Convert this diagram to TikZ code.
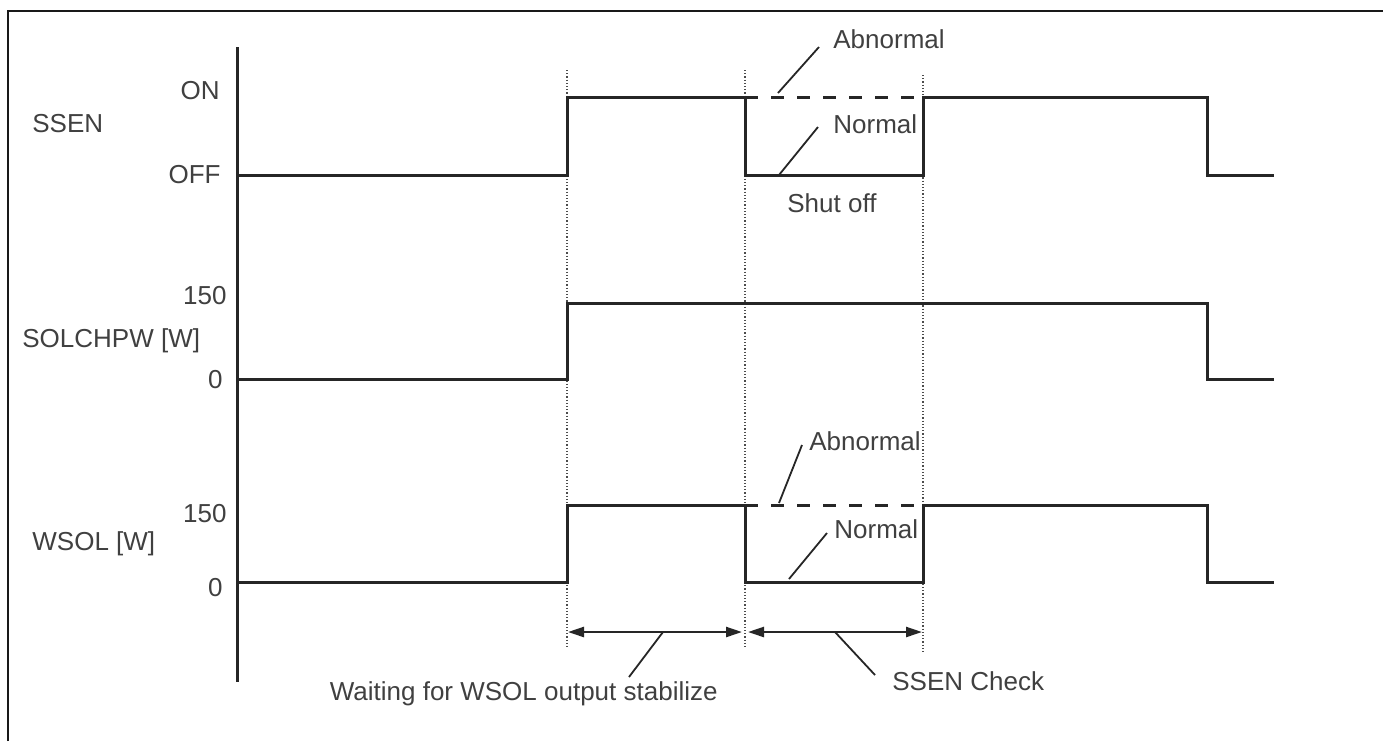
\documentclass[tikz,border=0pt]{standalone}
\usepackage{fontspec}
\setmainfont{Liberation Sans}
\usetikzlibrary{arrows.meta,positioning}

\begin{document}
\begin{tikzpicture}[x=0.5pt,y=-0.5pt,
  signal/.style={line width=1.5pt,black!85,line join=miter},
  abnormal/.style={signal,dash pattern=on 6.5pt off 6.5pt},
  guide/.style={densely dotted,line width=0.6pt,black!70},
  leader/.style={line width=0.9pt,black!85},
  span/.style={line width=1.2pt,black!85,
    {Triangle[length=8pt,width=5pt]}-{Triangle[length=8pt,width=5pt]}},
  lbl/.style={inner sep=0pt,text=black!75,font=\fontsize{13}{15}\selectfont}]
\useasboundingbox (0,0) rectangle (1383,741);
% frame
\draw[line width=1pt,black!90] (8,741) -- (8,11) -- (1383,11);
% time axis
\draw[signal] (237,47) -- (237,682);
% guides at the switching times
\draw[guide] (567,70) -- (567,648);
\draw[guide] (745,70) -- (745,648);
\draw[guide] (923,75) -- (923,652);
% SSEN
\draw[signal] (237,175) -- (567,175) -- (567,97) -- (745,97) -- (745,175)
  -- (923,175) -- (923,97) -- (1207,97) -- (1207,175) -- (1274,175);
\draw[abnormal] (745,97) -- (923,97);
% SOLCHPW
\draw[signal] (237,379) -- (567,379) -- (567,303) -- (1207,303)
  -- (1207,379) -- (1274,379);
% WSOL
\draw[signal] (237,582) -- (567,582) -- (567,505) -- (745,505) -- (745,582)
  -- (923,582) -- (923,505) -- (1207,505) -- (1207,582) -- (1274,582);
\draw[abnormal] (745,505) -- (923,505);
% axis labels
\node[lbl,anchor=base west] (ssen) at (32,132) {SSEN};
\node[lbl,anchor=base east] (on) at (220,99) {ON};
\node[lbl,anchor=base east] (off) at (221,183) {OFF};
\node[lbl,anchor=base west] (solchpw) at (22,347) {SOLCHPW [W]};
\node[lbl,anchor=base east] (solhi) at (227,304) {150};
\node[lbl,anchor=base east] (sollo) at (223,388) {0};
\node[lbl,anchor=base west] (wsol) at (32,550) {WSOL [W]};
\node[lbl,anchor=base east] (wsolhi) at (227,522) {150};
\node[lbl,anchor=base east] (wsollo) at (223,596) {0};
% state notes
\node[lbl,anchor=base west] (abnA) at (833,48) {Abnormal};
\node[lbl,anchor=base west] (nrmA) at (833,133) {Normal};
\node[lbl,anchor=base west] (shut) at (787,212) {Shut off};
\node[lbl,anchor=base west] (abnB) at (809,450) {Abnormal};
\node[lbl,anchor=base west] (nrmB) at (834,538) {Normal};
\coordinate (abnAp) at (778,93);
\coordinate (nrmAp) at (779,175);
\coordinate (abnBp) at (779,503);
\coordinate (nrmBp) at (789,579);
\draw[leader] (abnAp) -- ([shift={(-7pt,0.5pt)}]abnA.base west);
\draw[leader] (nrmAp) -- ([shift={(-7.5pt,3pt)}]nrmA.base west);
\draw[leader] (abnBp) -- ([shift={(-3.5pt,2.5pt)}]abnB.base west);
\draw[leader] (nrmBp) -- ([shift={(-3.5pt,2.5pt)}]nrmB.base west);
% intervals
\coordinate (t1) at (568,632);
\coordinate (t2) at (742,632);
\coordinate (t3) at (748,632);
\coordinate (t4) at (922,632);
\draw[span] (t1) -- (t2);
\draw[span] (t3) -- (t4);
\node[lbl,anchor=base east] (wait) at (718,700) {Waiting for WSOL output stabilize};
\node[lbl,anchor=base west] (check) at (892,690) {SSEN Check};
\coordinate (waitp) at (663,632);
\coordinate (checkp) at (835,632);
\draw[leader] (waitp) -- ([shift={(-44.5pt,11.5pt)}]wait.base east);
\draw[leader] (checkp) -- ([shift={(-8.5pt,7.5pt)}]check.base west);
\end{tikzpicture}
\end{document}
